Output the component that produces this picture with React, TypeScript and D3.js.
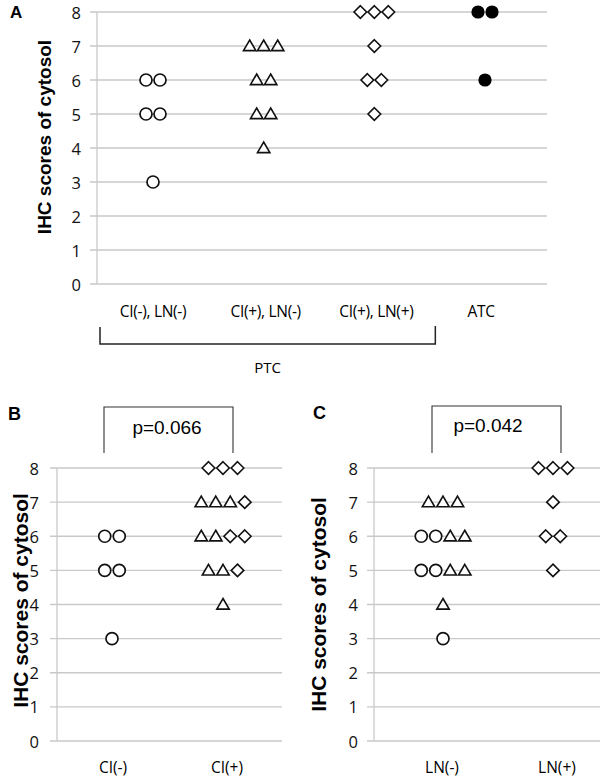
import React from "react";
import * as d3 from "d3";

// ---- Data (IHC scores of cytosol) ----
const yTicks = [0, 1, 2, 3, 4, 5, 6, 7, 8];

// Panel A groups
const catsA = ["CI(-), LN(-)", "CI(+), LN(-)", "CI(+), LN(+)", "ATC"];
const ciNegLnNeg = [6, 6, 5, 5, 3]; // circles
const ciPosLnNeg = [7, 7, 7, 6, 6, 5, 5, 4]; // triangles
const ciPosLnPos = [8, 8, 8, 7, 6, 6, 5]; // diamonds
const atc = [8, 8, 6]; // filled circles

// Panel B
const catsB = ["CI(-)", "CI(+)"];
const pB = "p=0.066";
// Panel C
const catsC = ["LN(-)", "LN(+)"];
const pC = "p=0.042";

type Shape = "circle" | "triangle" | "diamond" | "filled";
type Pt = { cat: string; value: number; shape: Shape };

const mk = (cat: string, vals: number[], shape: Shape): Pt[] =>
  vals.map((v) => ({ cat, value: v, shape }));

const dataA: Pt[] = [
  ...mk(catsA[0], ciNegLnNeg, "circle"),
  ...mk(catsA[1], ciPosLnNeg, "triangle"),
  ...mk(catsA[2], ciPosLnPos, "diamond"),
  ...mk(catsA[3], atc, "filled"),
];
const dataB: Pt[] = [
  ...mk(catsB[0], ciNegLnNeg, "circle"),
  ...mk(catsB[1], ciPosLnNeg, "triangle"),
  ...mk(catsB[1], ciPosLnPos, "diamond"),
];
const dataC: Pt[] = [
  ...mk(catsC[0], ciNegLnNeg, "circle"),
  ...mk(catsC[0], ciPosLnNeg, "triangle"),
  ...mk(catsC[1], ciPosLnPos, "diamond"),
];

const TICK_FONT = "'Open Sans', Lato, sans-serif";
const ARIAL = "'Liberation Sans', Arial, sans-serif";
const GRID = "#c9c9c9";

function markerPath(shape: Shape) {
  if (shape === "triangle") return "M0,-6 L6.2,4.6 L-6.2,4.6 Z";
  if (shape === "diamond") return "M0,-6.3 L6.3,0 L0,6.3 L-6.3,0 Z";
  return "";
}

function Markers({ data, x, y, spacing }: { data: Pt[]; x: any; y: any; spacing: number }) {
  const groups = d3.groups(data, (d) => d.cat, (d) => d.value);
  const out: JSX.Element[] = [];
  groups.forEach(([cat, byVal]) => {
    byVal.forEach(([val, pts]) => {
      const n = pts.length;
      pts.forEach((p, i) => {
        const cx = x(cat) + (i - (n - 1) / 2) * spacing;
        const cy = y(val);
        const key = `${cat}-${val}-${i}`;
        if (p.shape === "circle")
          out.push(<circle key={key} cx={cx} cy={cy} r={6} fill="white" stroke="#111" strokeWidth={1.7} />);
        else if (p.shape === "filled")
          out.push(<circle key={key} cx={cx} cy={cy} r={6.6} fill="#000" />);
        else
          out.push(
            <path key={key} d={markerPath(p.shape)} transform={`translate(${cx},${cy})`} fill="white" stroke="#111" strokeWidth={1.6} strokeLinejoin="miter" />
          );
      });
    });
  });
  return <g>{out}</g>;
}

function Axes({ x0, x1, y, tickX, fontSize }: { x0: number; x1: number; y: any; tickX: number; fontSize: number }) {
  return (
    <g>
      {yTicks.map((t) => (
        <g key={t}>
          <line x1={x0 - 7} x2={x1} y1={y(t)} y2={y(t)} stroke={GRID} strokeWidth={1.3} />
          <text x={tickX} y={y(t)} textAnchor="end" dominantBaseline="central" fontFamily={TICK_FONT} fontSize={fontSize} fill="#111">
            {t}
          </text>
        </g>
      ))}
      <line x1={x0} x2={x0} y1={y(8)} y2={y(0)} stroke={GRID} strokeWidth={1.3} />
    </g>
  );
}

export default function App() {
  const yA = d3.scaleLinear().domain([0, 8]).range([284, 12]);
  const xA = d3.scalePoint<string>().domain(catsA).range([153, 485]);
  const yB = d3.scaleLinear().domain([0, 8]).range([741, 468]);
  const xB = d3.scalePoint<string>().domain(catsB).range([112, 223]);
  const yC = d3.scaleLinear().domain([0, 8]).range([741, 468]);
  const xC = d3.scalePoint<string>().domain(catsC).range([443, 553]);

  const bl = (xA(catsA[0]) as number) - 53;
  const br = (xA(catsA[2]) as number) + 61;

  return (
    <svg width={600} height={779} style={{ position: "absolute", left: 0, top: 0, background: "#fff" }}>
      <rect width={600} height={779} fill="#fff" />
      {/* Panel A */}
      <text x={10} y={18} fontFamily={ARIAL} fontWeight="bold" fontSize={17}>A</text>
      <Axes x0={97} x1={547} y={yA} tickX={81} fontSize={16.5} />
      <text transform={`translate(44,${(yA(0) + yA(8)) / 2 - 11}) rotate(-90)`} textAnchor="middle" dominantBaseline="central" fontFamily={ARIAL} fontWeight="bold" fontSize={19}>
        IHC scores of cytosol
      </text>
      <Markers data={dataA} x={xA} y={yA} spacing={14} />
      {catsA.map((c, i) => (
        <text key={c} x={(xA(c) as number) + (i === 3 ? -4 : i === 0 ? 0 : 2)} y={311} textAnchor="middle" dominantBaseline="central" fontFamily={TICK_FONT} fontSize={15.5} letterSpacing={-0.3}>
          {c}
        </text>
      ))}
      <path d={`M${bl},327 V344 H${br} V326`} fill="none" stroke="#222" strokeWidth={1.5} />
      <text x={(bl + br) / 2} y={367} textAnchor="middle" dominantBaseline="central" fontFamily={TICK_FONT} fontSize={15}>
        PTC
      </text>

      {/* Panel B */}
      <text x={8} y={420} fontFamily={ARIAL} fontWeight="bold" fontSize={18}>B</text>
      <Axes x0={57} x1={282} y={yB} tickX={39} fontSize={16.5} />
      <text transform={`translate(20,${(yB(0) + yB(8)) / 2 - 4}) rotate(-90)`} textAnchor="middle" dominantBaseline="central" fontFamily={ARIAL} fontWeight="bold" fontSize={21}>
        IHC scores of cytosol
      </text>
      <Markers data={dataB} x={xB} y={yB} spacing={14.5} />
      {catsB.map((c, i) => (
        <text key={c} x={(xB(c) as number) + (i === 1 ? 4 : 1)} y={767} textAnchor="middle" dominantBaseline="central" fontFamily={TICK_FONT} fontSize={15.5}>
          {c}
        </text>
      ))}
      <path d={`M${(xB(catsB[0]) as number) - 8},${yB(8) - 15} V${yB(8) - 61} H${(xB(catsB[1]) as number) + 10} V${yB(8) - 15}`} fill="none" stroke="#333" strokeWidth={1.1} />
      <text x={167} y={427} textAnchor="middle" dominantBaseline="central" fontFamily={ARIAL} fontSize={19}>
        {pB}
      </text>

      {/* Panel C */}
      <text x={313} y={419} fontFamily={ARIAL} fontWeight="bold" fontSize={18}>C</text>
      <Axes x0={374} x1={600} y={yC} tickX={358} fontSize={16.5} />
      <text transform={`translate(318,${(yC(0) + yC(8)) / 2}) rotate(-90)`} textAnchor="middle" dominantBaseline="central" fontFamily={ARIAL} fontWeight="bold" fontSize={21}>
        IHC scores of cytosol
      </text>
      <Markers data={dataC} x={xC} y={yC} spacing={14.5} />
      {catsC.map((c, i) => (
        <text key={c} x={(xC(c) as number) + (i === 1 ? 4 : -1)} y={767} textAnchor="middle" dominantBaseline="central" fontFamily={TICK_FONT} fontSize={15.5}>
          {c}
        </text>
      ))}
      <path d={`M${(xC(catsC[0]) as number) - 11},${yC(8) - 15} V${yC(8) - 62} H${(xC(catsC[1]) as number) + 8} V${yC(8) - 15}`} fill="none" stroke="#333" strokeWidth={1.1} />
      <text x={488} y={425} textAnchor="middle" dominantBaseline="central" fontFamily={ARIAL} fontSize={19}>
        {pC}
      </text>
    </svg>
  );
}
